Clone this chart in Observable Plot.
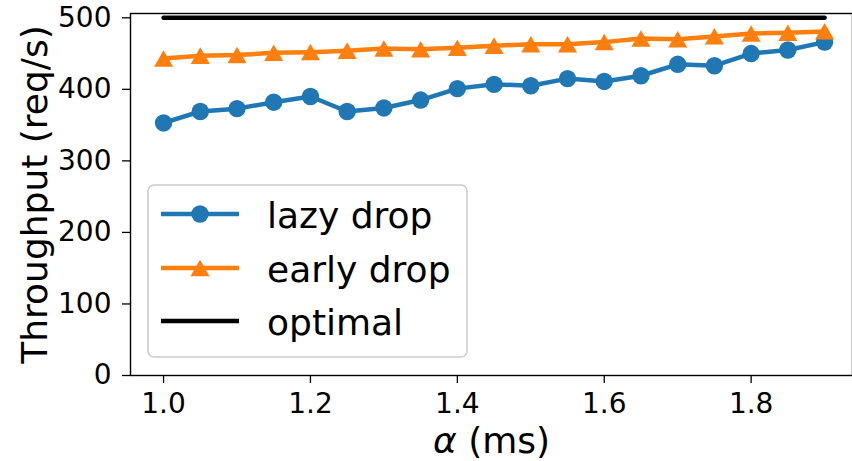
<!DOCTYPE html>
<html>
<head>
<meta charset="utf-8">
<script src="https://cdn.jsdelivr.net/npm/d3@7"></script>
<script src="https://cdn.jsdelivr.net/npm/@observablehq/plot@0.6"></script>
<style>
  html, body { margin: 0; padding: 0; background: #fff; }
  #chart svg { display: block; }
</style>
</head>
<body>
<div id="chart"></div>
<script>
const alpha = [1.0, 1.05, 1.1, 1.15, 1.2, 1.25, 1.3, 1.35, 1.4, 1.45, 1.5, 1.55, 1.6, 1.65, 1.7, 1.75, 1.8, 1.85, 1.9];
const lazyDrop = [353, 369, 373, 382, 390, 369, 374, 385, 401, 407, 405, 415, 411, 419, 435, 433, 450, 455, 466];
const earlyDrop = [443, 447, 448, 451, 452, 454, 457, 456, 458, 461, 463, 463, 466, 471, 470, 474, 478, 479, 481];
const optimal = [500, 500, 500, 500, 500, 500, 500, 500, 500, 500, 500, 500, 500, 500, 500, 500, 500, 500, 500];
const xTicks = [1.0, 1.2, 1.4, 1.6, 1.8];
const yTicks = [0, 100, 200, 300, 400, 500];
const seriesNames = ["lazy drop", "early drop", "optimal"];
const seriesColors = ["#1f77b4", "#ff7f0e", "#000000"];
const xLabel = "α (ms)";
const yLabel = "Throughput (req/s)";

const lazyData = alpha.map((a, i) => ({a, v: lazyDrop[i]}));
const earlyData = alpha.map((a, i) => ({a, v: earlyDrop[i]}));
const optData = alpha.map((a, i) => ({a, v: optimal[i]}));

const plot = Plot.plot({
  width: 852,
  height: 461,
  marginLeft: 130,
  marginRight: 0,
  marginTop: 13,
  marginBottom: 86,
  style: {fontFamily: "DejaVu Sans", fontSize: "28px", color: "#000", background: "#fff"},
  x: {domain: [0.955, 1.938]},
  y: {domain: [0, 506]},
  marks: [
    Plot.axisX({ticks: xTicks, tickFormat: d3.format(".1f"), tickSize: 8, tickPadding: 10, strokeWidth: 1.3, label: null, fontSize: 28}),
    Plot.axisY({ticks: yTicks, tickFormat: d => String(d), tickSize: 8, tickPadding: 11, strokeWidth: 1.3, label: null, fontSize: 28}),
    Plot.frame({stroke: "#000", strokeWidth: 1.4}),
    Plot.line(lazyData, {x: "a", y: "v", stroke: seriesColors[0], strokeWidth: 4.5}),
    Plot.dot(lazyData, {x: "a", y: "v", r: 8.7, fill: seriesColors[0], stroke: "none", symbol: "circle"}),
    Plot.line(earlyData, {x: "a", y: "v", stroke: seriesColors[1], strokeWidth: 4.5}),
    Plot.dot(earlyData, {x: "a", y: "v", r: 7.1, fill: seriesColors[1], stroke: "none", symbol: "triangle", dy: 2.7}),
    Plot.line(optData, {x: "a", y: "v", stroke: seriesColors[2], strokeWidth: 4.5}),
    Plot.text([yLabel], {frameAnchor: "left", textAnchor: "middle", lineAnchor: "middle", rotate: -90, dx: -95, fontSize: 36, fill: "#000", text: d => d}),
    Plot.text([xLabel], {frameAnchor: "bottom", textAnchor: "middle", lineAnchor: "middle", dy: 66, fontSize: 36, fill: "#000", text: d => d, className: "xlab"})
  ]
});

document.getElementById("chart").appendChild(plot);

const svg = d3.select(plot);
// italic alpha in x label
svg.selectAll(".xlab text").each(function() {
  const t = d3.select(this);
  t.text(null);
  t.append("tspan").attr("font-style", "italic").text("α");
  t.append("tspan").text(" (ms)");
});

// legend
const lg = svg.append("g").attr("font-family", "DejaVu Sans").attr("text-anchor", "start");
lg.append("rect")
  .attr("x", 148).attr("y", 185).attr("width", 319).attr("height", 172)
  .attr("rx", 6).attr("ry", 6)
  .attr("fill", "#fff").attr("fill-opacity", 0.8)
  .attr("stroke", "#cccccc").attr("stroke-width", 1.5);
const rowY = [214, 268, 321];
seriesNames.forEach((name, i) => {
  const y = rowY[i];
  lg.append("line").attr("x1", 161).attr("x2", 239).attr("y1", y).attr("y2", y)
    .attr("stroke", seriesColors[i]).attr("stroke-width", 4.5);
  if (i === 0) {
    lg.append("circle").attr("cx", 200).attr("cy", y).attr("r", 8.7).attr("fill", seriesColors[i]);
  } else if (i === 1) {
    lg.append("path").attr("d", d3.symbol(d3.symbolTriangle, Math.PI * 7.1 * 7.1)())
      .attr("transform", `translate(200,${y + 2.7})`).attr("fill", seriesColors[i]);
  }
  lg.append("text").attr("x", 267).attr("y", y + 14).attr("text-anchor", "start")
    .attr("font-size", 36).attr("fill", "#000").text(name);
});
</script>
</body>
</html>
